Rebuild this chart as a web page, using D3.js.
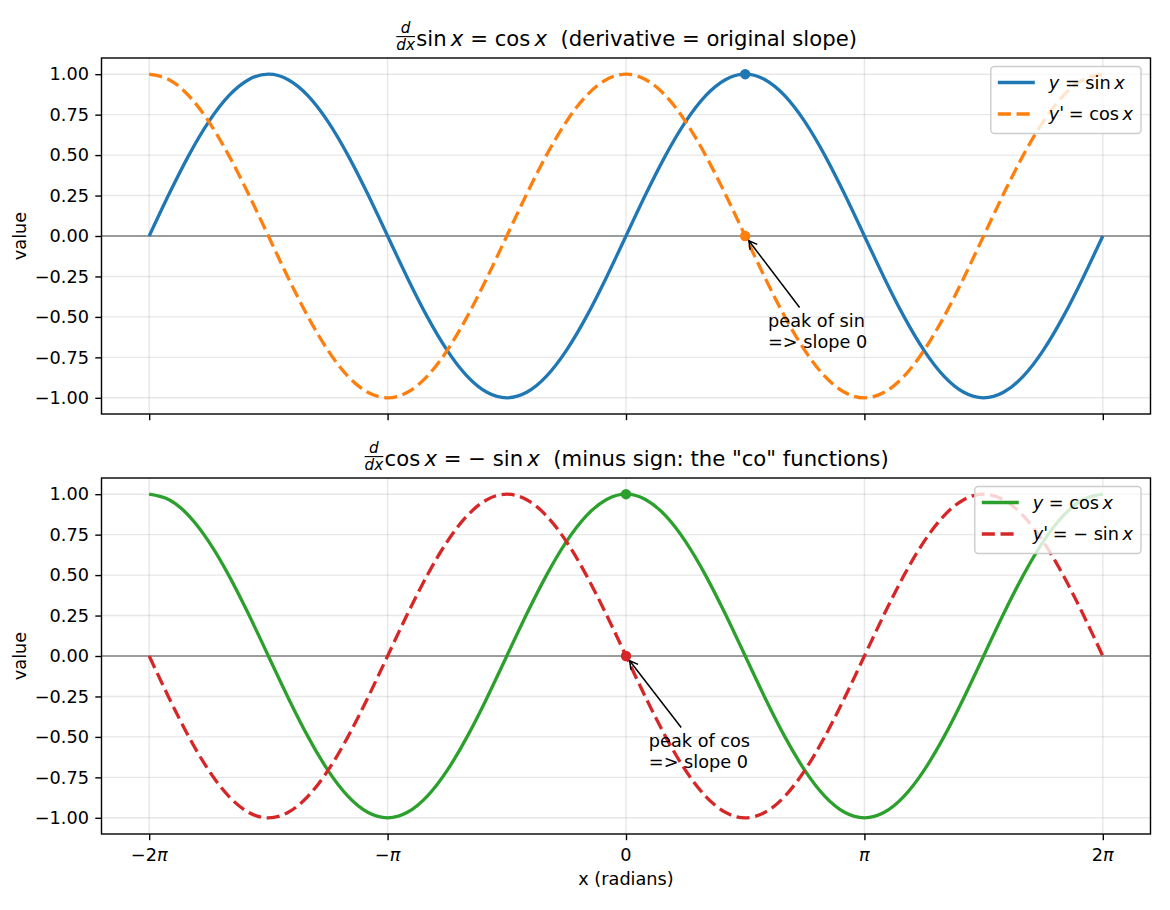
<!DOCTYPE html>
<html>
<head>
<meta charset="utf-8">
<script src="https://cdn.jsdelivr.net/npm/d3@7"></script>
<style>
  body { margin: 0; background: #fff; }
  svg { display: block; font-family: "DejaVu Sans", sans-serif; }
  text { white-space: pre; }
</style>
</head>
<body>
<svg id="chart" width="1170" height="910"></svg>
<script>
// x positions in units of pi/12, from -2pi to 2pi
const X_STEPS = [-24,-23,-22,-21,-20,-19,-18,-17,-16,-15,-14,-13,-12,-11,-10,-9,-8,-7,-6,-5,-4,-3,-2,-1,
  0,1,2,3,4,5,6,7,8,9,10,11,12,13,14,15,16,17,18,19,20,21,22,23,24];
const SIN_Y = [0,.259,.5,.707,.866,.966,1,.966,.866,.707,.5,.259,0,-.259,-.5,-.707,-.866,-.966,-1,-.966,-.866,-.707,-.5,-.259,
  0,.259,.5,.707,.866,.966,1,.966,.866,.707,.5,.259,0,-.259,-.5,-.707,-.866,-.966,-1,-.966,-.866,-.707,-.5,-.259,0];
const COS_Y = [1,.966,.866,.707,.5,.259,0,-.259,-.5,-.707,-.866,-.966,-1,-.966,-.866,-.707,-.5,-.259,0,.259,.5,.707,.866,.966,
  1,.966,.866,.707,.5,.259,0,-.259,-.5,-.707,-.866,-.966,-1,-.966,-.866,-.707,-.5,-.259,0,.259,.5,.707,.866,.966,1];
const NEG_SIN_Y = [0,-.259,-.5,-.707,-.866,-.966,-1,-.966,-.866,-.707,-.5,-.259,0,.259,.5,.707,.866,.966,1,.966,.866,.707,.5,.259,
  0,-.259,-.5,-.707,-.866,-.966,-1,-.966,-.866,-.707,-.5,-.259,0,.259,.5,.707,.866,.966,1,.966,.866,.707,.5,.259,0];

const X_TICKS = [-24, -12, 0, 12, 24];
const X_TICK_LABELS = [
  [{t:"\u22122"},{t:"\u03c0",it:1}],
  [{t:"\u2212"},{t:"\u03c0",it:1}],
  [{t:"0"}],
  [{t:"\u03c0",it:1}],
  [{t:"2"},{t:"\u03c0",it:1}]
];
const Y_TICKS = [-1, -0.75, -0.5, -0.25, 0, 0.25, 0.5, 0.75, 1];

// marked points: [x step, f value, f' value]
const PEAKS = [[6, 1, 0], [0, 1, 0]];
const NOTE_POS = [[7.15, -0.56], [1.15, -0.56]]; // text anchor (x step, y value)
const NOTE_TEXT = [["peak of sin", "=> slope 0"], ["peak of cos", "=> slope 0"]];

const TITLES = [
  [{frac:["d","dx"]},{t:"sin"},{t:"\u2009x",it:1},{t:" = cos"},{t:"\u2009x",it:1},{t:"  (derivative = original slope)"}],
  [{frac:["d","dx"]},{t:"cos"},{t:"\u2009x",it:1},{t:" = \u2212 sin"},{t:"\u2009x",it:1},{t:"  (minus sign: the \"co\" functions)"}]
];
const LEGENDS = [
  [[{t:"y",it:1},{t:" = sin"},{t:"\u2009x",it:1}], [{t:"y",it:1},{t:"'",it:1,sup:1},{t:" = cos"},{t:"\u2009x",it:1}]],
  [[{t:"y",it:1},{t:" = cos"},{t:"\u2009x",it:1}], [{t:"y",it:1},{t:"'",it:1,sup:1},{t:" = \u2212 sin"},{t:"\u2009x",it:1}]]
];
const SERIES = [[SIN_Y, COS_Y], [COS_Y, NEG_SIN_Y]];
const COLORS = [["#1f77b4", "#ff7f0e"], ["#2ca02c", "#d62728"]];

const svg = d3.select("#chart");
svg.append("rect").attr("width", 1170).attr("height", 910).attr("fill", "#fff");

const L = 101.5, R = 1150.5;
const PANELS = [{top: 58, bottom: 414}, {top: 478, bottom: 834}];
const x = d3.scaleLinear().domain([-26.4, 26.4]).range([L, R]);
const FS = 17.7, TFS = 21.2, PT = 1.77;
const DASH = `${7.4*PT},${3.2*PT}`;

// lays out mixed regular / italic / fraction text, baseline at y=0
function mathText(parent, segs, fs){
  const g = parent.append("g");
  let cx = 0;
  segs.forEach(s => {
    if (s.frac) {
      const f = fs * 0.72, pad = fs * 0.06;
      const n = g.append("text").attr("font-size", f).attr("font-style", "italic").attr("text-anchor", "middle").text(s.frac[0]);
      const d = g.append("text").attr("font-size", f).attr("font-style", "italic").attr("text-anchor", "middle").text(s.frac[1]);
      const w = Math.max(n.node().getComputedTextLength(), d.node().getComputedTextLength());
      n.attr("x", cx + pad + w/2).attr("y", -fs * 0.6);
      d.attr("x", cx + pad + w/2).attr("y", fs * 0.2);
      g.append("line").attr("x1", cx + pad).attr("x2", cx + pad + w)
        .attr("y1", -fs * 0.42).attr("y2", -fs * 0.42)
        .attr("stroke", "#000").attr("stroke-width", 1.1);
      cx += w + 2 * pad;
    } else {
      const t = g.append("text").attr("x", cx).attr("font-size", fs)
        .attr("y", s.sup ? -fs * 0.08 : 0).text(s.t);
      if (s.it) t.attr("font-style", "italic");
      cx += t.node().getComputedTextLength() * (s.sup ? 0.8 : 1);
    }
  });
  return {g, width: cx};
}

PANELS.forEach((p, i) => {
  const y = d3.scaleLinear().domain([-1.1, 1.1]).range([p.bottom, p.top]);
  const g = svg.append("g");

  // grid
  g.append("g").selectAll("line").data(Y_TICKS).join("line")
    .attr("x1", L).attr("x2", R).attr("y1", d => y(d)).attr("y2", d => y(d))
    .attr("stroke", "#b0b0b0").attr("stroke-opacity", 0.3).attr("stroke-width", 1.4);
  g.append("g").selectAll("line").data(X_TICKS).join("line")
    .attr("x1", d => x(d)).attr("x2", d => x(d)).attr("y1", p.top).attr("y2", p.bottom)
    .attr("stroke", "#b0b0b0").attr("stroke-opacity", 0.3).attr("stroke-width", 1.4);

  // zero line
  g.append("line").attr("x1", L).attr("x2", R).attr("y1", y(0)).attr("y2", y(0))
    .attr("stroke", "gray").attr("stroke-width", 1.4);

  // curves
  const line = d3.line().x((d, k) => x(X_STEPS[k])).y(d => y(d)).curve(d3.curveNatural);
  SERIES[i].forEach((vals, k) => {
    g.append("path").datum(vals).attr("d", line)
      .attr("fill", "none").attr("stroke", COLORS[i][k]).attr("stroke-width", 3.3)
      .attr("stroke-dasharray", k === 1 ? DASH : null);
  });

  // marked points
  const pk = PEAKS[i];
  g.append("circle").attr("cx", x(pk[0])).attr("cy", y(pk[1])).attr("r", 5.2).attr("fill", COLORS[i][0]);
  g.append("circle").attr("cx", x(pk[0])).attr("cy", y(pk[2])).attr("r", 5.2).attr("fill", COLORS[i][1]);

  // annotation
  const nt = g.append("text").attr("font-size", FS)
    .attr("x", x(NOTE_POS[i][0])).attr("y", y(NOTE_POS[i][1]));
  NOTE_TEXT[i].forEach((s, k) => {
    nt.append("tspan").attr("x", x(NOTE_POS[i][0])).attr("dy", k ? 21 : 0).text(s);
  });
  const tb = nt.node().getBBox();
  const bcx = tb.x + tb.width / 2, bcy = tb.y + tb.height / 2;
  const px = x(pk[0]), py = y(pk[2]);
  const dx = px - bcx, dy = py - bcy, len = Math.hypot(dx, dy);
  const t0 = Math.min(dx ? (tb.width / 2) / Math.abs(dx) : Infinity, dy ? (tb.height / 2) / Math.abs(dy) : Infinity);
  const x1 = bcx + dx * (t0 + 4 / len), y1 = bcy + dy * (t0 + 4 / len);
  const x2 = px - dx * (6 / len), y2 = py - dy * (6 / len);
  const ux = dx / len, uy = dy / len, hl = 8, hw = 4.5;
  g.append("line").attr("x1", x1).attr("y1", y1).attr("x2", x2).attr("y2", y2)
    .attr("stroke", "#000").attr("stroke-width", 1.5);
  g.append("path")
    .attr("d", `M${x2 - ux*hl - uy*hw},${y2 - uy*hl + ux*hw}L${x2},${y2}L${x2 - ux*hl + uy*hw},${y2 - uy*hl - ux*hw}`)
    .attr("fill", "none").attr("stroke", "#000").attr("stroke-width", 1.5);

  // spines
  g.append("rect").attr("x", L).attr("y", p.top).attr("width", R - L).attr("height", p.bottom - p.top)
    .attr("fill", "none").attr("stroke", "#000").attr("stroke-width", 1.4);

  // y axis
  const ya = g.append("g").attr("transform", `translate(${L},0)`)
    .call(d3.axisLeft(y).tickValues(Y_TICKS).tickSize(6.2).tickPadding(6.4)
      .tickFormat(d => d3.format(".2f")(d).replace("-", "\u2212")));
  ya.select(".domain").remove();
  ya.selectAll("line").attr("stroke", "#000").attr("stroke-width", 1.4);
  ya.selectAll("text").attr("font-size", FS).attr("font-family", "DejaVu Sans").attr("fill", "#000");

  // x axis
  const xa = g.append("g").attr("transform", `translate(0,${p.bottom})`)
    .call(d3.axisBottom(x).tickValues(X_TICKS).tickSize(6.2).tickFormat(""));
  xa.select(".domain").remove();
  xa.selectAll("line").attr("stroke", "#000").attr("stroke-width", 1.4);
  if (i === 1) {
    X_TICKS.forEach((v, k) => {
      const m = mathText(g, X_TICK_LABELS[k], FS);
      m.g.attr("transform", `translate(${x(v) - m.width / 2},${p.bottom + 27})`);
    });
    g.append("text").attr("font-size", FS).attr("text-anchor", "middle")
      .attr("x", (L + R) / 2).attr("y", p.bottom + 51).text("x (radians)");
  }

  // y label
  g.append("text").attr("font-size", FS).attr("text-anchor", "middle")
    .attr("transform", `translate(25.5,${(p.top + p.bottom) / 2}) rotate(-90)`).text("value");

  // title
  const tt = mathText(g, TITLES[i], TFS);
  tt.g.attr("transform", `translate(${(L + R) / 2 - tt.width / 2},${p.top - 12.5})`);

  // legend
  const lg = g.append("g");
  const box = lg.append("rect");
  const labels = LEGENDS[i].map(segs => mathText(lg, segs, FS));
  const tw = d3.max(labels, d => d.width);
  const bRight = R - 9.5, tStart = bRight - 8 - tw;
  const hx2 = tStart - 14, hx1 = hx2 - 37, bLeft = hx1 - 7;
  const bTop = p.top + 8.5;
  box.attr("x", bLeft).attr("y", bTop).attr("width", bRight - bLeft).attr("height", 67).attr("rx", 3.5)
    .attr("fill", "#fff").attr("fill-opacity", 0.8).attr("stroke", "#cccccc").attr("stroke-width", 1.4);
  labels.forEach((m, k) => {
    const rowY = bTop + 16 + k * 31.5;
    lg.append("line").attr("x1", hx1).attr("x2", hx2).attr("y1", rowY).attr("y2", rowY)
      .attr("stroke", COLORS[i][k]).attr("stroke-width", 3.3)
      .attr("stroke-dasharray", k === 1 ? DASH : null);
    m.g.attr("transform", `translate(${tStart},${rowY + 6})`).raise();
  });
});
</script>
</body>
</html>
